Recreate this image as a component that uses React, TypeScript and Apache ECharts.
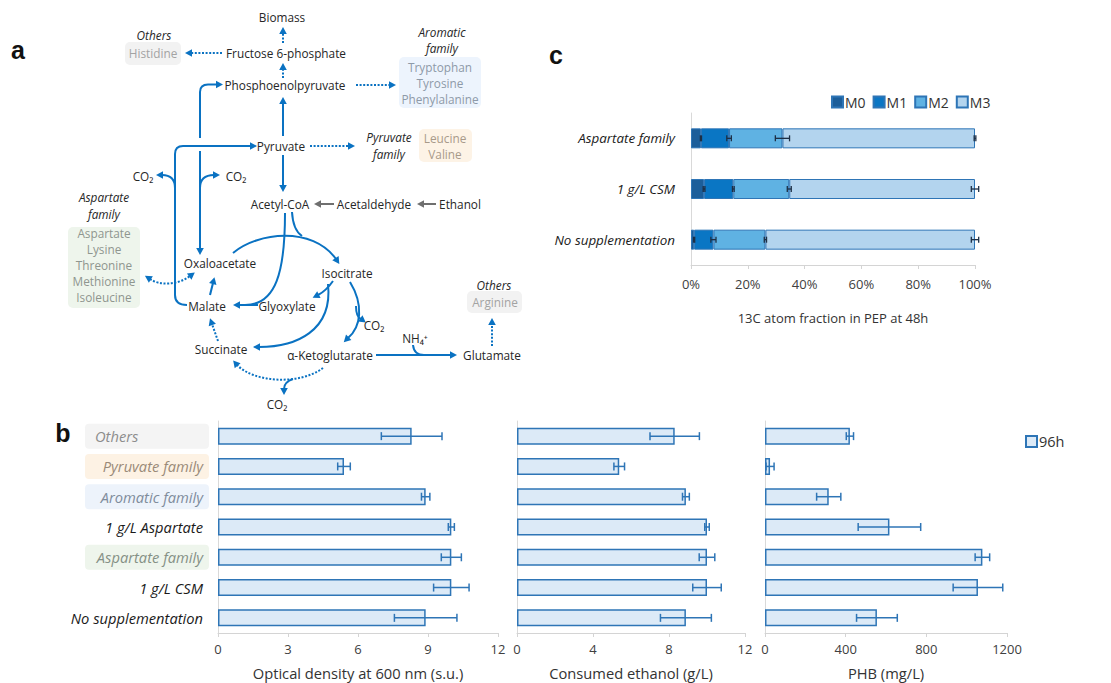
import React, { useEffect, useRef } from 'react';
import * as echarts from 'echarts';

// ---------------- DATA ----------------
const categoriesB = ['Others', 'Pyruvate family', 'Aromatic family', '1 g/L Aspartate', 'Aspartate family', '1 g/L CSM', 'No supplementation'];
const odValues = [8.3, 5.4, 8.9, 10.0, 10.0, 10.0, 8.9];
const odErrors = [1.3, 0.27, 0.18, 0.13, 0.43, 0.76, 1.34];
const ethanolValues = [8.3, 5.38, 8.89, 10.0, 10.0, 10.0, 8.89];
const ethanolErrors = [1.3, 0.28, 0.18, 0.12, 0.41, 0.75, 1.34];
const phbValues = [421, 25, 316, 617, 1078, 1056, 555];
const phbErrors = [18, 20, 60, 155, 36, 123, 101];
const odTicks = [0, 3, 6, 9, 12];
const ethanolTicks = [0, 4, 8, 12];
const phbTicks = [0, 400, 800, 1200];

const categoriesC = ['Aspartate family', '1 g/L CSM', 'No supplementation'];
const isotopologues = ['M0', 'M1', 'M2', 'M3'];
const m0Values = [3.5, 4.6, 1.1];
const m1Values = [9.9, 10.3, 6.8];
const m2Values = [18.8, 19.7, 18.3];
const m3Values = [67.8, 65.4, 73.8];
const m0Errors = [0.2, 0.3, 0.2];
const m1Errors = [0.8, 0.3, 0.9];
const m2Errors = [2.5, 0.7, 0.4];
const m3Errors = [0.3, 1.3, 1.3];
const pctTicks = [0, 20, 40, 60, 80, 100];

// ---------------- STYLE ----------------
const FONT = '"Open Sans", "Noto Sans", sans-serif';
const BLUE = '#0a72c2';
const GRAYA = '#6f6f6f';
const BAR_FILL = '#dceaf7';
const BAR_BORDER = '#2e75b6';
const C_COLORS = ['#1c5e9a', '#0a76c4', '#5fb2e3', '#b3d4ee'];
const DIAG_SIZE = 11.8;

// ---------------- DIAGRAM HELPERS ----------------
type P = [number, number];
const lineStyle = (dotted: boolean, color = BLUE) => ({ stroke: color, lineWidth: 2, fill: null, lineDash: dotted ? [2, 1.6] : null });
function head(end: P, from: P, color = BLUE, len = 7, w = 3.8) {
  const dx = end[0] - from[0], dy = end[1] - from[1];
  const L = Math.hypot(dx, dy) || 1;
  const ux = dx / L, uy = dy / L;
  const bx = end[0] - ux * 1, by = end[1] - uy * 1;
  const tx = bx + ux * len, ty = by + uy * len;
  return { type: 'polygon', silent: true, shape: { points: [[tx, ty], [bx - uy * w, by + ux * w], [bx + uy * w, by - ux * w]] }, style: { fill: color } };
}
function seg(a: P, b: P, dotted = false, color = BLUE) {
  return { type: 'line', silent: true, shape: { x1: a[0], y1: a[1], x2: b[0], y2: b[1] }, style: lineStyle(dotted, color) };
}
function quad(a: P, c: P, b: P, dotted = false) {
  return { type: 'bezierCurve', silent: true, shape: { x1: a[0], y1: a[1], cpx1: c[0], cpy1: c[1], x2: b[0], y2: b[1] }, style: lineStyle(dotted) };
}
function cubic(a: P, c1: P, c2: P, b: P, dotted = false) {
  return { type: 'bezierCurve', silent: true, shape: { x1: a[0], y1: a[1], cpx1: c1[0], cpy1: c1[1], cpx2: c2[0], cpy2: c2[1], x2: b[0], y2: b[1] }, style: lineStyle(dotted) };
}
function arrow(a: P, b: P, dotted = false, color = BLUE) {
  return [seg(a, b, dotted, color), head(b, a, color)];
}
function txt(x: number, y: number, text: string, opts: any = {}) {
  return {
    type: 'text', silent: true, x, y,
    style: { text, fill: opts.fill || '#262626', fontSize: opts.size || DIAG_SIZE, fontFamily: opts.family || FONT, fontStyle: opts.italic ? 'italic' : 'normal', fontWeight: opts.bold ? 'bold' : 'normal', align: opts.align || 'center', verticalAlign: 'middle' },
  };
}
function box(x: number, y: number, w: number, h: number, fill: string) {
  return { type: 'rect', silent: true, shape: { x, y, width: w, height: h, r: 5 }, style: { fill } };
}

function buildDiagram() {
  const g: any[] = [];
  // boxes
  g.push(box(125, 42, 56, 23, '#f2f2f2'));
  g.push(box(399, 57, 82, 51, '#edf4fd'));
  g.push(box(419, 129, 53, 33, '#fdf3e6'));
  g.push(box(68, 227, 72, 81, '#eef5ec'));
  g.push(box(467, 291, 55, 22, '#f2f2f2'));

  // upper glycolysis / biosynthesis dotted arrows
  g.push(...arrow([283, 43], [283, 33], true));
  g.push(...arrow([222, 53], [191, 53], true));
  g.push(...arrow([283, 78], [283, 69], true));
  g.push(...arrow([356, 85], [390, 85], true));
  g.push(...arrow([283, 136], [283, 103]));
  g.push(...arrow([283, 155], [283, 186]));
  g.push(...arrow([310, 146], [349, 146], true));
  // ethanol -> acetaldehyde -> acetyl-CoA
  g.push(...arrow([334, 204], [320, 204], false, GRAYA));
  g.push(...arrow([436, 204], [423, 204], false, GRAYA));

  // OAA <-> PEP path
  g.push(seg([200, 151], [200, 249]));
  g.push(head([200, 249], [200, 240]));
  g.push(seg([200, 138], [200, 92]));
  g.push(quad([200, 92], [200, 84.5], [208, 84.5]));
  g.push(...arrow([208, 84.5], [217, 84.5]));
  g.push(quad([200, 188], [200, 175], [214, 175]));
  g.push(head([214, 175], [208, 175]));

  // Malate -> Pyruvate path
  g.push(quad([187, 305], [175, 305], [175, 295]));
  g.push(seg([175, 295], [175, 154]));
  g.push(quad([175, 154], [175, 146], [183, 146]));
  g.push(...arrow([183, 146], [251, 146]));
  g.push(quad([175, 188], [175, 175], [162, 175]));
  g.push(head([162, 175], [168, 175]));

  // Aspartate family <-> OAA
  g.push(cubic([150, 279], [160, 286], [178, 285], [190, 276], true));
  g.push(head([150, 279], [158, 284]));
  g.push(head([190, 276], [182, 282]));

  // Malate -> OAA
  g.push(...arrow([210, 295], [213, 283]));
  // OAA -> Isocitrate arc
  g.push(cubic([233, 253], [258, 232], [312, 226], [336, 259]));
  g.push(head([336, 259], [330, 250]));
  // Acetyl-CoA -> citrate
  g.push(quad([292, 212], [293, 230], [302, 236]));
  // Acetyl-CoA -> malate (glyoxylate shunt)
  g.push(cubic([285, 213], [285, 272], [276, 305], [245, 305]));
  g.push(...arrow([258, 305], [239, 305]));
  // Isocitrate -> glyoxylate
  g.push(quad([333, 281], [326, 291], [318, 295]));
  g.push(head([318, 295], [324, 292]));
  // Isocitrate -> succinate
  g.push(cubic([328, 284], [333, 331], [296, 347], [259, 347]));
  g.push(head([259, 347], [266, 347]));
  // Isocitrate -> alpha-KG
  g.push(cubic([350, 282], [364, 305], [361, 327], [348, 338]));
  g.push(head([348, 338], [353, 333]));
  g.push(quad([356, 306], [356, 317], [361, 319]));
  g.push(head([361, 319], [357, 316]));
  // alpha-KG -> succinate (dotted)
  g.push(cubic([323, 368], [300, 385], [255, 383], [237, 365], true));
  g.push(head([237, 365], [242, 371]));
  g.push(quad([293, 379], [284, 382], [284, 389]));
  g.push(head([284, 389], [284, 384]));
  // succinate -> malate
  g.push(...arrow([218, 341], [212, 324], true));
  // alpha-KG -> glutamate
  g.push(...arrow([376, 355], [451, 355]));
  g.push(quad([413, 345], [414, 355], [424, 355]));
  // glutamate -> arginine
  g.push(...arrow([492, 346], [492, 324], true));

  // texts
  g.push(txt(282, 17, 'Biomass'));
  g.push(txt(154, 35, 'Others', { italic: true }));
  g.push(txt(153, 53, 'Histidine', { fill: '#a3a3a3' }));
  g.push(txt(286, 53, 'Fructose 6-phosphate'));
  g.push(txt(442, 32, 'Aromatic', { italic: true }));
  g.push(txt(442, 48, 'family', { italic: true }));
  g.push(txt(440, 67, 'Tryptophan', { fill: '#8e9aa8' }));
  g.push(txt(440, 83, 'Tyrosine', { fill: '#8e9aa8' }));
  g.push(txt(440, 99, 'Phenylalanine', { fill: '#8e9aa8' }));
  g.push(txt(285, 85, 'Phosphoenolpyruvate'));
  g.push(txt(281, 146, 'Pyruvate'));
  g.push(txt(389, 137, 'Pyruvate', { italic: true }));
  g.push(txt(389, 154, 'family', { italic: true }));
  g.push(txt(445, 138, 'Leucine', { fill: '#a89a8a' }));
  g.push(txt(445, 154, 'Valine', { fill: '#a89a8a' }));
  g.push(txt(143, 176, 'CO₂'));
  g.push(txt(236, 176, 'CO₂'));
  g.push(txt(104, 197, 'Aspartate', { italic: true }));
  g.push(txt(104, 214, 'family', { italic: true }));
  ['Aspartate', 'Lysine', 'Threonine', 'Methionine', 'Isoleucine'].forEach((s, i) => g.push(txt(104, 233 + i * 16, s, { fill: '#8f968f' })));
  g.push(txt(280, 204, 'Acetyl-CoA'));
  g.push(txt(374, 204, 'Acetaldehyde'));
  g.push(txt(460, 204, 'Ethanol'));
  g.push(txt(220, 263, 'Oxaloacetate'));
  g.push(txt(347, 273, 'Isocitrate'));
  g.push(txt(207, 306, 'Malate'));
  g.push(txt(287, 306, 'Glyoxylate'));
  g.push(txt(374, 325, 'CO₂'));
  g.push(txt(221, 349, 'Succinate'));
  g.push(txt(330, 355, 'α-Ketoglutarate'));
  g.push(txt(415, 338, 'NH₄⁺'));
  g.push(txt(492, 355, 'Glutamate'));
  g.push(txt(494, 285, 'Others', { italic: true }));
  g.push(txt(495, 302, 'Arginine', { fill: '#a3a3a3' }));
  g.push(txt(277, 404, 'CO₂'));

  // panel letters
  const LF = '"Liberation Sans", Arial, sans-serif';
  g.push(txt(18, 50, 'a', { size: 25, bold: true, family: LF, fill: '#111' }));
  g.push(txt(63, 433, 'b', { size: 25, bold: true, family: LF, fill: '#111' }));
  g.push(txt(556, 55, 'c', { size: 25, bold: true, family: LF, fill: '#111' }));
  return g;
}

// ---------------- CHART HELPERS ----------------
function valueAxis(gi: number, ticks: number[], name: string, nameGap: number, labelMargin: number, nameSize: number, suffix = '') {
  return {
    type: 'value', gridIndex: gi,
    min: ticks[0], max: ticks[ticks.length - 1], interval: ticks[1] - ticks[0],
    name, nameLocation: 'middle', nameGap,
    nameTextStyle: { fontSize: nameSize, color: '#333', fontFamily: FONT },
    axisLine: { show: true, lineStyle: { color: '#d4d4d4', width: 1 } },
    axisTick: { show: true, length: 4, lineStyle: { color: '#d4d4d4' } },
    axisLabel: { fontSize: 13, color: '#404040', margin: labelMargin, fontFamily: FONT, formatter: (v: number) => `${v}${suffix}` },
    splitLine: { show: false },
  };
}

function errorSeries(gi: number, centers: number[], errs: number[], cap: number, color: string, width: number) {
  return {
    type: 'custom', xAxisIndex: gi, yAxisIndex: gi, z: 10, silent: true,
    data: centers.map((v, i) => [v - errs[i], v + errs[i], i]),
    encode: { x: [0, 1], y: 2 },
    renderItem: (_p: any, api: any) => {
      const lo = api.coord([api.value(0), api.value(2)]);
      const hi = api.coord([api.value(1), api.value(2)]);
      const st = { stroke: color, lineWidth: width };
      return {
        type: 'group',
        children: [
          { type: 'line', shape: { x1: lo[0], y1: lo[1], x2: hi[0], y2: hi[1] }, style: st },
          { type: 'line', shape: { x1: lo[0], y1: lo[1] - cap, x2: lo[0], y2: lo[1] + cap }, style: st },
          { type: 'line', shape: { x1: hi[0], y1: hi[1] - cap, x2: hi[0], y2: hi[1] + cap }, style: st },
        ],
      };
    },
  };
}

const labelBox = (bg: string, fg: string, align: string) => ({
  backgroundColor: bg, color: fg, borderRadius: 4, height: 25, lineHeight: 25,
  fontStyle: 'italic', fontSize: 14.7, fontFamily: FONT, align,
  width: align === 'left' ? 114 : 118, padding: align === 'left' ? [0, 0, 0, 10] : [0, 6, 0, 0],
});

function labelKey(v: string) {
  if (v === 'Others') return 'oth';
  if (v === 'Pyruvate family') return 'pyr';
  if (v === 'Aromatic family') return 'aro';
  if (v === 'Aspartate family') return 'asp';
  return 'pln';
}

function buildOption() {
  const catAxisB = (gi: number) => ({
    type: 'category', gridIndex: gi, data: categoriesB, inverse: true,
    axisLine: { show: true, lineStyle: { color: '#d9d9d9', width: 1 } },
    axisTick: { show: false },
    axisLabel: gi === 0 ? {
      margin: 9,
      formatter: (v: string) => `{${labelKey(v)}|${v}}`,
      rich: {
        oth: labelBox('#f4f4f4', '#8c8c8c', 'left'),
        pyr: labelBox('#fdf2e4', '#9a8a78', 'right'),
        aro: labelBox('#edf3fb', '#7f8c9b', 'right'),
        asp: labelBox('#eef5ec', '#859085', 'right'),
        pln: { ...labelBox('transparent', '#1a1a1a', 'right'), backgroundColor: 'transparent' },
      },
    } : { show: false },
  });

  const barB = (gi: number, vals: number[], name: string) => ({
    type: 'bar', name, xAxisIndex: gi, yAxisIndex: gi, data: vals, barWidth: 17,
    itemStyle: { color: BAR_FILL, borderColor: BAR_BORDER, borderWidth: 1.5 },
  });

  const cValues = [m0Values, m1Values, m2Values, m3Values];
  const cErrors = [m0Errors, m1Errors, m2Errors, m3Errors];
  const cumulative = cValues.reduce<number[][]>((acc, arr, k) => {
    acc.push(arr.map((v, i) => (k === 0 ? 0 : acc[k - 1][i]) + v));
    return acc;
  }, []);

  return {
    animation: false,
    backgroundColor: '#ffffff',
    textStyle: { fontFamily: FONT },
    grid: [
      { left: 218, top: 421, width: 280, height: 212 },
      { left: 517, top: 421, width: 228, height: 212 },
      { left: 765, top: 421, width: 242, height: 212 },
      { left: 691, top: 113, width: 284, height: 152 },
    ],
    xAxis: [
      valueAxis(0, odTicks, 'Optical density at 600 nm (s.u.)', 32, 9, 14.7),
      valueAxis(1, ethanolTicks, 'Consumed ethanol (g/L)', 32, 9, 14.7),
      valueAxis(2, phbTicks, 'PHB (mg/L)', 32, 9, 14.7),
      valueAxis(3, pctTicks, '13C atom fraction in PEP at 48h', 46, 12, 13, '%'),
    ],
    yAxis: [
      catAxisB(0), catAxisB(1), catAxisB(2),
      {
        type: 'category', gridIndex: 3, data: categoriesC, inverse: true,
        axisLine: { show: true, lineStyle: { color: '#d9d9d9', width: 1 } },
        axisTick: { show: false },
        axisLabel: { margin: 16, fontSize: 13.4, fontStyle: 'italic', color: '#1a1a1a', fontFamily: FONT },
      },
    ],
    legend: [
      {
        data: isotopologues, left: 831, top: 95, padding: 0, itemWidth: 11, itemHeight: 11, itemGap: 7, icon: 'rect',
        selectedMode: false, textStyle: { fontSize: 14, color: '#333', fontFamily: FONT, padding: [0, 0, 0, -3] },
      },
      {
        data: ['96h'], left: 1025, top: 434, padding: 0, itemWidth: 11, itemHeight: 11, icon: 'rect',
        selectedMode: false, textStyle: { fontSize: 14.5, color: '#333', fontFamily: FONT, padding: [0, 0, 0, -3] },
      },
    ],
    series: [
      barB(0, odValues, 'OD'),
      errorSeries(0, odValues, odErrors, 4, BAR_BORDER, 1.5),
      barB(1, ethanolValues, 'Ethanol'),
      errorSeries(1, ethanolValues, ethanolErrors, 4, BAR_BORDER, 1.5),
      barB(2, phbValues, '96h'),
      errorSeries(2, phbValues, phbErrors, 4, BAR_BORDER, 1.5),
      ...isotopologues.map((name, k) => ({
        type: 'bar', name, stack: 'pep', xAxisIndex: 3, yAxisIndex: 3, data: cValues[k], barWidth: 20,
        itemStyle: { color: C_COLORS[k], borderColor: BAR_BORDER, borderWidth: 1 },
      })),
      ...isotopologues.map((_n, k) => errorSeries(3, cumulative[k], cErrors[k], 3, '#1d2f45', 1.3)),
    ],
    graphic: buildDiagram(),
  };
}

export default function App() {
  const ref = useRef<HTMLDivElement>(null);
  useEffect(() => {
    document.body.style.margin = '0';
    const chart = echarts.init(ref.current!, null, { renderer: 'svg' });
    chart.setOption(buildOption() as any);
    return () => chart.dispose();
  }, []);
  return <div ref={ref} style={{ width: 1111, height: 683 }} />;
}
